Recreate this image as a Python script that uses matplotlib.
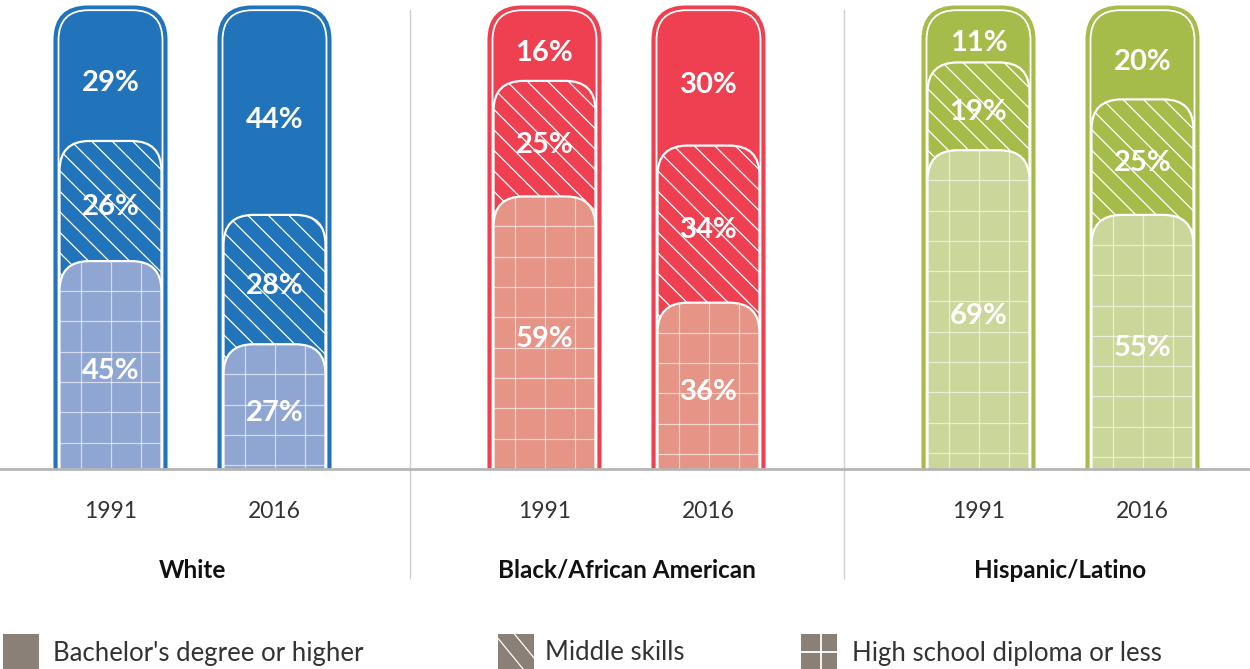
import matplotlib

matplotlib.use("Agg")
import matplotlib.pyplot as plt
import numpy as np
from matplotlib.collections import LineCollection
from matplotlib.patches import FancyBboxPatch, Rectangle

groups = ["White", "Black/African American", "Hispanic/Latino"]
years = ["1991", "2016"]
bachelor = [[29, 44], [16, 30], [11, 20]]
middle = [[26, 28], [25, 34], [19, 25]]
high_school = [[45, 27], [59, 36], [69, 55]]
dark_colors = ["#2173BA", "#EE4050", "#A5BC4A"]
light_colors = ["#8FA5D2", "#E69485", "#CBD69B"]
legend_labels = ["Bachelor's degree or higher", "Middle skills", "High school diploma or less"]

# layout (pixels)
W, H = 1250, 669
SX = 434.0          # px per group unit
SY = 4.62           # px per percentage point
BASE = 200          # baseline height from bottom
X0 = -192.5 / SX    # left edge in group units
YEAR_OFF = 82 / SX
LEGEND_GRAY = "#8B8078"

plt.rcParams["font.family"] = ["Lato", "DejaVu Sans"]

fig = plt.figure(figsize=(W / 100, H / 100), dpi=100)
ax = fig.add_axes([0, BASE / H, 1, 102 * SY / H])
ax.set_xlim(X0, X0 + W / SX)
ax.set_ylim(0, 102)
ax.axis("off")


def round_top(xc, width_px, top, radius_px, z, **kw):
    w = width_px / SX
    p = FancyBboxPatch(
        (xc - w / 2, -10), w, top + 10,
        boxstyle=f"round,pad=0,rounding_size={radius_px / SX}",
        mutation_aspect=SX / SY, zorder=z, **kw,
    )
    ax.add_patch(p)
    return p


def add_lines(segs_px, xc, patch, z, **kw):
    segs = [[(xc + a / SX, b / SY), (xc + c / SX, d / SY)] for a, b, c, d in segs_px]
    lc = LineCollection(segs, zorder=z, **kw)
    ax.add_collection(lc)
    lc.set_clip_box(ax.bbox)
    lc.set_clip_path(patch)


for gi, grp in enumerate(groups):
    for yi, yr in enumerate(years):
        xc = gi + (yi - 0.5) * 2 * YEAR_OFF
        dark, light = dark_colors[gi], light_colors[gi]
        hs = high_school[gi][yi]
        ms = middle[gi][yi]
        ba = bachelor[gi][yi]

        # outer bar (bachelor's)
        round_top(xc, 111, 100, 33, 1, facecolor=dark, edgecolor=dark, linewidth=2.2)
        round_top(xc, 104, 100 - 3.2 / SY, 30, 1.1, facecolor="none", edgecolor="white", linewidth=1.3)

        # middle skills
        top_ms = hs + ms
        p_ms = round_top(xc, 102, top_ms, 30, 2, facecolor=dark, edgecolor="white", linewidth=1.6)
        top_px = top_ms * SY
        segs = [(-60, c + 60, 60, c - 60) for c in np.arange(-60, top_px + 80, 20.5)]
        add_lines(segs, xc, p_ms, 2.1, colors="white", linewidths=0.9)

        # high school
        p_hs = round_top(xc, 102, hs, 30, 3, facecolor=light, edgecolor="white", linewidth=1.6)
        top_px = hs * SY
        segs = [(v, 0, v, top_px) for v in (-30, 0, 30)]
        yy = top_px - 30
        while yy > 0:
            segs.append((-60, yy, 60, yy))
            yy -= 30.3
        add_lines(segs, xc, p_hs, 3.1, colors=(1, 1, 1, 0.6), linewidths=0.9)

        # value labels
        kw = dict(ha="center", va="center", color="white", fontsize=21, fontweight="bold", zorder=5)
        ax.text(xc, hs / 2 - 1.3, f"{hs}%", **kw)
        ax.text(xc, hs + ms / 2 - 1.3, f"{ms}%", **kw)
        ax.text(xc, (top_ms + 100) / 2 - 1.9, f"{ba}%", **kw)

        ax.text(xc, -42 / SY, yr, ha="center", va="center", fontsize=16.5, color="#333333", clip_on=False)

    ax.text(gi, -101 / SY, grp, ha="center", va="center", fontsize=17.5, fontweight="bold",
            color="#111111", clip_on=False)

# group dividers and baseline
for xd in (0.5, 1.5):
    ax.plot([xd, xd], [-109 / SY, 99.4], color="#CFCFCF", linewidth=1.0, clip_on=False)
ax.axhline(0, color="#B5B5B5", linewidth=2.0, clip_on=False, zorder=6)

# legend
leg_x = [3, 498, 801]
txt_x = [53, 545, 852]
for i, lab in enumerate(legend_labels):
    x = leg_x[i]
    fig.add_artist(Rectangle((x / W, 0), 36 / W, 35 / H, transform=fig.transFigure,
                             facecolor=LEGEND_GRAY, edgecolor="none"))
    if i == 1:
        for off in (0, 20):
            fig.add_artist(plt.Line2D([(x + off - 6) / W, (x + off + 30) / W], [38 / H, -6 / H],
                                      transform=fig.transFigure, color="white", linewidth=0.9))
    if i == 2:
        fig.add_artist(plt.Line2D([(x + 20) / W] * 2, [0, 35 / H], transform=fig.transFigure,
                                  color="white", linewidth=1.3))
        fig.add_artist(plt.Line2D([x / W, (x + 36) / W], [17 / H] * 2, transform=fig.transFigure,
                                  color="white", linewidth=1.3))
    fig.text(txt_x[i] / W, 16 / H, lab, ha="left", va="center", fontsize=18.5, color="#333333")

fig.savefig("out.png", dpi=100)
plt.close(fig)
